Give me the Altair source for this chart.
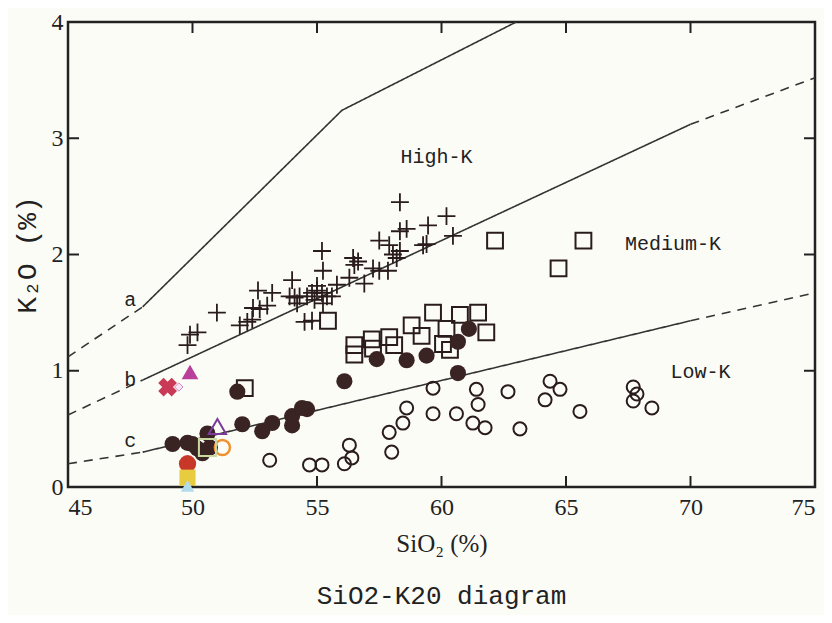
import altair as alt
import pandas as pd

# ---------------- data ----------------
plus_x = [58.33, 58.33, 58.6, 60.2, 59.46, 60.46, 59.4, 59.26, 57.5, 57.9, 58.05, 58.33, 58.2,
          57.25, 57.5, 57.85, 56.45, 56.65, 56.5, 55.2, 55.24, 56.3, 56.9, 55.8, 54.0, 52.63,
          53.2, 53.9, 54.1, 54.3, 54.6, 54.8, 55.0, 55.2, 55.4, 54.9, 55.0, 55.6, 54.2, 55.24,
          52.43, 52.7, 53.0, 50.98, 51.9, 52.2, 52.4, 54.5, 54.8, 49.9, 50.2, 49.8]
plus_y = [2.45, 2.20, 2.22, 2.33, 2.25, 2.16, 2.09, 2.08, 2.12, 2.08, 2.00, 2.03, 1.97,
          1.88, 1.86, 1.86, 1.97, 1.94, 1.91, 2.03, 1.86, 1.80, 1.75, 1.74, 1.78, 1.69,
          1.67, 1.64, 1.63, 1.64, 1.64, 1.67, 1.69, 1.67, 1.64, 1.61, 1.73, 1.64, 1.58, 1.58,
          1.54, 1.53, 1.56, 1.50, 1.39, 1.42, 1.44, 1.42, 1.43, 1.31, 1.33, 1.22]

square_x = [62.15, 65.7, 64.7, 55.44, 56.5, 56.5, 57.2, 57.25, 57.9, 58.1, 58.8, 59.2,
            59.66, 60.74, 61.47, 60.2, 60.06, 60.34, 61.8, 52.1]
square_y = [2.12, 2.12, 1.88, 1.43, 1.22, 1.14, 1.27, 1.19, 1.29, 1.22, 1.39, 1.30,
            1.50, 1.48, 1.50, 1.36, 1.23, 1.18, 1.33, 0.85]

dot_x = [56.1, 57.4, 58.6, 59.4, 60.66, 61.1, 60.66, 54.6, 51.8, 52.0, 52.8, 53.2, 54.0,
         54.0, 54.4, 49.2, 49.8, 50.0, 50.2, 50.4, 50.7, 50.6]
dot_y = [0.91, 1.10, 1.09, 1.13, 1.25, 1.36, 0.98, 0.67, 0.82, 0.54, 0.48, 0.55, 0.61,
         0.53, 0.68, 0.37, 0.38, 0.37, 0.33, 0.29, 0.34, 0.46]

ring_x = [59.66, 58.6, 58.45, 57.9, 58.0, 56.3, 56.4, 56.1, 55.2, 54.7, 53.1, 59.66, 60.6,
          61.4, 61.47, 61.26, 61.75, 62.67, 63.15, 64.36, 64.76, 64.16, 65.56, 67.7, 67.85,
          67.7, 68.45]
ring_y = [0.85, 0.68, 0.55, 0.47, 0.30, 0.36, 0.25, 0.20, 0.19, 0.19, 0.23, 0.63, 0.63,
          0.84, 0.71, 0.55, 0.51, 0.82, 0.50, 0.91, 0.84, 0.75, 0.65, 0.86, 0.80,
          0.74, 0.68]

# special coloured samples
spec_name = ["X", "diamond", "tri_fill", "tri_open", "ring_orange", "sq_green",
             "dot_red", "sq_yellow", "tri_blue"]
spec_x = [49.0, 49.45, 49.9, 51.0, 51.2, 50.6, 49.8, 49.8, 49.8]
spec_y = [0.86, 0.86, 0.99, 0.52, 0.34, 0.34, 0.20, 0.08, 0.01]

# boundary lines (segments)
line_a_x = [45, 48, 56, 63]
line_a_y = [1.12, 1.55, 3.24, 4.0]
line_b_x = [45, 48, 70, 75]
line_b_y = [0.62, 0.92, 3.12, 3.52]
line_c_x = [45, 48, 70, 75]
line_c_y = [0.20, 0.30, 1.43, 1.67]

# annotations
label_text = ["a", "b", "c", "High-K", "Medium-K", "Low-K"]
label_x = [47.5, 47.5, 47.5, 59.8, 69.3, 70.4]
label_y = [1.61, 0.92, 0.40, 2.84, 2.09, 0.99]

x_ticks = [45, 50, 55, 60, 65, 70, 75]
y_ticks = [0, 1, 2, 3, 4]
x_inner = [50, 55, 60, 65, 70]
y_inner = [1, 2, 3]

# ---------------- build ----------------
W, H = 747, 465
INK = "#2a1c1c"
xs = alt.Scale(domain=[45, 75], nice=False, zero=False)
ys = alt.Scale(domain=[0, 4], nice=False, zero=False)

rows = []
def add_seg(name, xv, yv, style):
    for a, b in zip(xv, yv):
        rows.append({"seg": name, "x": a, "y": b, "style": style})

for nm, lx, ly, has_right in [("a", line_a_x, line_a_y, False),
                               ("b", line_b_x, line_b_y, True),
                               ("c", line_c_x, line_c_y, True)]:
    add_seg(nm + "0", lx[0:2], ly[0:2], "dashed")
    if has_right:
        add_seg(nm + "1", lx[1:3], ly[1:3], "solid")
        add_seg(nm + "2", lx[2:4], ly[2:4], "dashed")
    else:
        add_seg(nm + "1", lx[1:], ly[1:], "solid")
lines_df = pd.DataFrame(rows)

X = alt.X("x:Q", scale=xs,
          axis=alt.Axis(values=x_ticks, title="SiO₂ (%)", format="d"))
Y = alt.Y("y:Q", scale=ys,
          axis=alt.Axis(values=y_ticks, title="K₂O (%)", format="d"))

lines = alt.Chart(lines_df).mark_line(color="#333333", strokeWidth=1.6).encode(
    x=X, y=Y, detail="seg:N",
    strokeDash=alt.StrokeDash("style:N", scale=alt.Scale(domain=["solid", "dashed"],
                                                         range=[[1, 0], [9, 7]]), legend=None),
)

plus_df = pd.DataFrame({"x": plus_x, "y": plus_y})
plus = alt.Chart(plus_df).mark_point(shape="M-1,0L1,0M0,-1L0,1", filled=False,
                                     stroke=INK, strokeWidth=1.8, size=320, opacity=1).encode(x=X, y=Y)

sq_df = pd.DataFrame({"x": square_x, "y": square_y})
squares = alt.Chart(sq_df).mark_point(shape="square", filled=False, stroke=INK,
                                      strokeWidth=2, size=250, opacity=1).encode(x=X, y=Y)

ring_df = pd.DataFrame({"x": ring_x, "y": ring_y})
rings = alt.Chart(ring_df).mark_point(shape="circle", filled=False, stroke=INK,
                                      strokeWidth=2, size=170, opacity=1).encode(x=X, y=Y)

dot_df = pd.DataFrame({"x": dot_x, "y": dot_y})
dots = alt.Chart(dot_df).mark_point(shape="circle", filled=True, fill="#3a2323",
                                    size=260, opacity=1).encode(x=X, y=Y)

spec_style = {
    "X": dict(shape="cross", fill="#c83a55", stroke="#c83a55", size=360, angle=45, sw=0),
    "diamond": dict(shape="diamond", fill="#f6e6f2", stroke="#e080c8", size=70, angle=0, sw=1),
    "tri_fill": dict(shape="triangle-up", fill="#b8409a", stroke="#b8409a", size=280, angle=0, sw=0),
    "tri_open": dict(shape="triangle-up", fill="transparent", stroke="#7a3c9a", size=300, angle=0, sw=2),
    "ring_orange": dict(shape="circle", fill="transparent", stroke="#f09030", size=230, angle=0, sw=2.5),
    "sq_green": dict(shape="square", fill="transparent", stroke="#c8d8a0", size=290, angle=0, sw=2),
    "dot_red": dict(shape="circle", fill="#c83828", stroke="#c83828", size=300, angle=0, sw=0),
    "sq_yellow": dict(shape="square", fill="#e8cc40", stroke="#e8cc40", size=260, angle=0, sw=0),
    "tri_blue": dict(shape="triangle-up", fill="#b0dcf0", stroke="#b0dcf0", size=180, angle=0, sw=0),
}
spec_layers = []
for nm, sx, sy in zip(spec_name, spec_x, spec_y):
    st = spec_style[nm]
    d = pd.DataFrame({"x": [sx], "y": [sy]})
    spec_layers.append(
        alt.Chart(d).mark_point(shape=st["shape"], filled=True, fill=st["fill"], stroke=st["stroke"],
                                strokeWidth=st["sw"], size=st["size"], angle=st["angle"],
                                opacity=1).encode(x=X, y=Y)
    )

lab_df = pd.DataFrame({"t": label_text, "x": label_x, "y": label_y})
labels = alt.Chart(lab_df).mark_text(font="Liberation Mono", fontSize=20, color="#222222",
                                     align="center", baseline="middle").encode(x=X, y=Y, text="t:N")

xt = pd.DataFrame({"x": x_inner})
yt = pd.DataFrame({"y": y_inner})
tick_b = alt.Chart(xt).mark_rule(color="#222", strokeWidth=2).encode(x=X, y=alt.value(H), y2=alt.value(H - 11))
tick_t = alt.Chart(xt).mark_rule(color="#222", strokeWidth=2).encode(x=X, y=alt.value(0), y2=alt.value(11))
tick_l = alt.Chart(yt).mark_rule(color="#222", strokeWidth=2).encode(y=Y, x=alt.value(0), x2=alt.value(11))
tick_r = alt.Chart(yt).mark_rule(color="#222", strokeWidth=2).encode(y=Y, x=alt.value(W), x2=alt.value(W - 11))

chart = alt.layer(
    lines, tick_b, tick_t, tick_l, tick_r, rings, squares, plus, dots, *spec_layers, labels
).properties(
    width=W, height=H,
    autosize=alt.AutoSizeParams(type="none"),
    padding={"left": 60, "top": 14, "right": 9, "bottom": 128},
    background="#fcfcf7",
    title=alt.TitleParams("SiO2-K20 diagram", orient="bottom", font="Liberation Mono",
                          fontSize=26, fontWeight="normal", color="#222222", offset=27),
).configure_view(
    stroke="#222222", strokeWidth=2.5
).configure_axis(
    grid=False, domain=False, ticks=False,
    labelFont="Liberation Serif", labelFontSize=24, labelColor="#222222",
    titleFont="Liberation Serif", titleFontSize=25, titleFontWeight="normal", titleColor="#222222",
).configure_axisX(
    labelPadding=8, titlePadding=12
).configure_axisY(
    labelPadding=5, titlePadding=10, titleFont="Liberation Mono", titleFontSize=28
)

chart.save("out.html", embed_options={"renderer": "svg", "actions": False})
